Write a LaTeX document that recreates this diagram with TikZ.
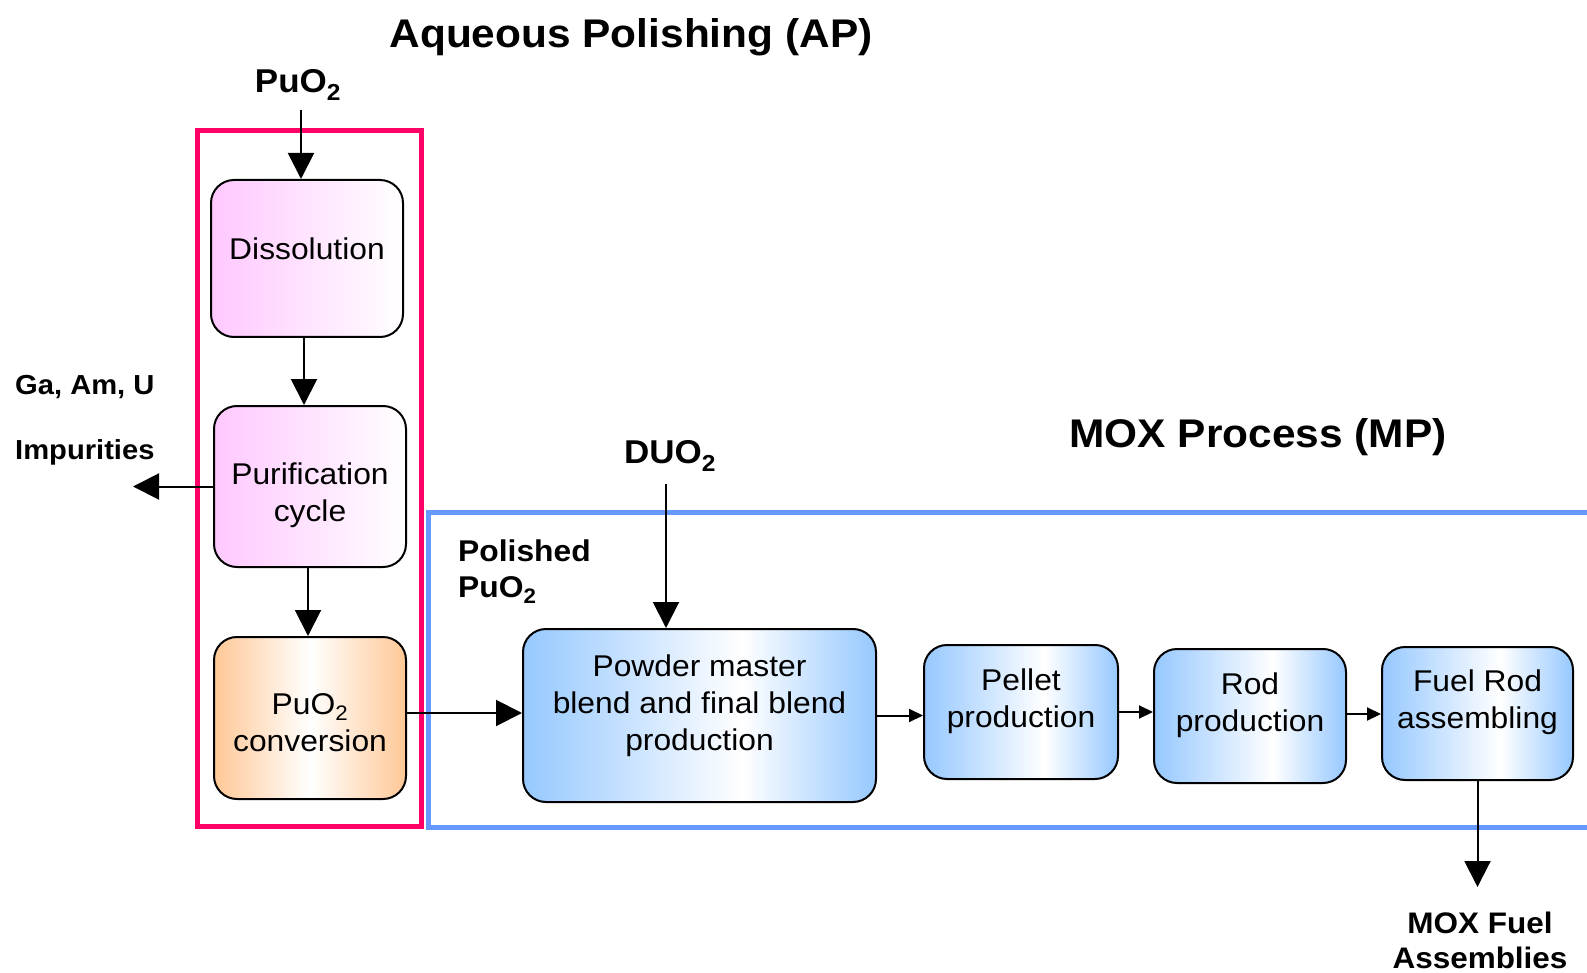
\documentclass[tikz,border=0pt]{standalone}
\usepackage{fontspec}
\setmainfont{Liberation Sans}[FakeStretch=1.06]
\usetikzlibrary{arrows.meta}
\definecolor{pinkc}{RGB}{255,200,255}
\definecolor{orangec}{RGB}{255,200,150}
\definecolor{bluec}{RGB}{150,200,255}
\definecolor{redframe}{RGB}{255,0,102}
\definecolor{blueframe}{RGB}{102,153,255}
\pgfdeclarehorizontalshading{pinkshade}{100bp}{color(0bp)=(pinkc); color(25bp)=(pinkc); color(75bp)=(white); color(100bp)=(white)}
\pgfdeclarehorizontalshading{orangeshade}{100bp}{color(0bp)=(orangec); color(25bp)=(orangec); color(50bp)=(white); color(75bp)=(orangec); color(100bp)=(orangec)}
\pgfdeclarehorizontalshading{blueshade}{100bp}{color(0bp)=(bluec); color(25bp)=(bluec); color(56bp)=(white); color(75bp)=(bluec); color(100bp)=(bluec)}
\begin{document}
\begin{tikzpicture}[x=1pt,y=-1pt,
  box/.style={draw=black, line width=2pt, rounded corners=23pt, inner sep=0pt},
  pinkbox/.style={box, shading=pinkshade},
  orangebox/.style={box, shading=orangeshade},
  bluebox/.style={box, shading=blueshade},
  boxtxt/.style={font=\fontsize{30}{37}\selectfont, align=center, inner sep=0pt},
  lbl/.style={font=\bfseries\fontsize{29}{36}\selectfont, align=center, inner sep=0pt},
  inlbl/.style={font=\bfseries\fontsize{33}{38}\selectfont, inner sep=0pt},
  titlelbl/.style={font=\bfseries\fontsize{40}{46}\selectfont, inner sep=0pt},
  bigarrow/.style={-{Triangle[length=26pt,width=26pt]}, line width=2pt},
  smallarrow/.style={-{Triangle[length=14pt,width=13pt]}, line width=2pt}]
\useasboundingbox (0,0) rectangle (1587,973);
\fill[white] (0,0) rectangle (1587,973);

% frames
\draw[redframe, line width=5pt] (197,131) rectangle (421,826);
\draw[blueframe, line width=5pt] (428,512) rectangle (1640,827);

% titles and labels
\node[titlelbl] (aptitle) at (631,37) {Aqueous Polishing (AP)};
\node[titlelbl] (mptitle) at (1258,437) {MOX Process (MP)};
\node[inlbl] (puo2in) at (298,85) {PuO\textsubscript{2}};
\node[inlbl] (duo2in) at (670,456) {DUO\textsubscript{2}};
\node[lbl, align=left, anchor=west, font=\bfseries\fontsize{27.5}{65}\selectfont] (imp) at (15,420) {Ga, Am, U\\Impurities};
\node[lbl, align=left, anchor=west, font=\bfseries\fontsize{30}{36}\selectfont] (polished) at (458,572) {Polished\\PuO\textsubscript{2}};
\node[lbl, font=\bfseries\fontsize{29.7}{35}\selectfont] (moxfa) at (1480,940) {MOX Fuel\\Assemblies};

% process boxes
\node[pinkbox, minimum width=192pt, minimum height=157pt,
  label={[boxtxt,yshift=10pt]center:Dissolution}] (diss) at (307,258.5) {};
\node[pinkbox, minimum width=192pt, minimum height=161pt,
  label={[boxtxt,yshift=-9pt]center:Purification\\cycle}] (purif) at (310,486.5) {};
\node[orangebox, minimum width=192pt, minimum height=162pt,
  label={[boxtxt,yshift=-5pt]center:PuO\textsubscript{2}\\conversion}] (conv) at (310,718) {};
\node[bluebox, minimum width=353pt, minimum height=173pt,
  label={[boxtxt,yshift=10pt]center:Powder master\\blend and final blend\\production}] (powder) at (699.5,715.5) {};
\node[bluebox, minimum width=194pt, minimum height=134pt,
  label={[boxtxt,yshift=11pt]center:Pellet\\production}] (pellet) at (1021,712) {};
\node[bluebox, minimum width=192pt, minimum height=134pt,
  label={[boxtxt,yshift=11pt]center:Rod\\production}] (rod) at (1250,716) {};
\node[bluebox, minimum width=191pt, minimum height=133pt,
  label={[boxtxt,yshift=11pt]center:Fuel Rod\\assembling}] (fuel) at (1477.5,713.5) {};

% connectors
\coordinate (puo2src) at (301,110);
\coordinate (duosrc) at (666,484);
\coordinate (impout) at (133,485);
\coordinate (moxout) at (1477,887);
\draw[bigarrow] (puo2src) -- ([xshift=-6pt]diss.north);
\draw[bigarrow] ([xshift=-3pt]diss.south) -- ([xshift=-6pt]purif.north);
\draw[bigarrow] ([xshift=-2pt]purif.south) -- ([xshift=-2pt]conv.north);
\draw[bigarrow] (purif.west) -- (purif.west -| impout);
\draw[bigarrow] ([yshift=5pt]conv.east) -- ([yshift=5pt]conv.east -| powder.west);
\draw[bigarrow] (duosrc) -- (duosrc |- powder.north);
\draw[smallarrow] (powder.east) -- (powder.east -| pellet.west);
\draw[smallarrow] (pellet.east) -- (pellet.east -| rod.west);
\draw[smallarrow] ([yshift=2pt]rod.east) -- ([yshift=2pt]rod.east -| fuel.west);
\draw[bigarrow] (fuel.south) -- (fuel.south |- moxout);
\end{tikzpicture}
\end{document}
